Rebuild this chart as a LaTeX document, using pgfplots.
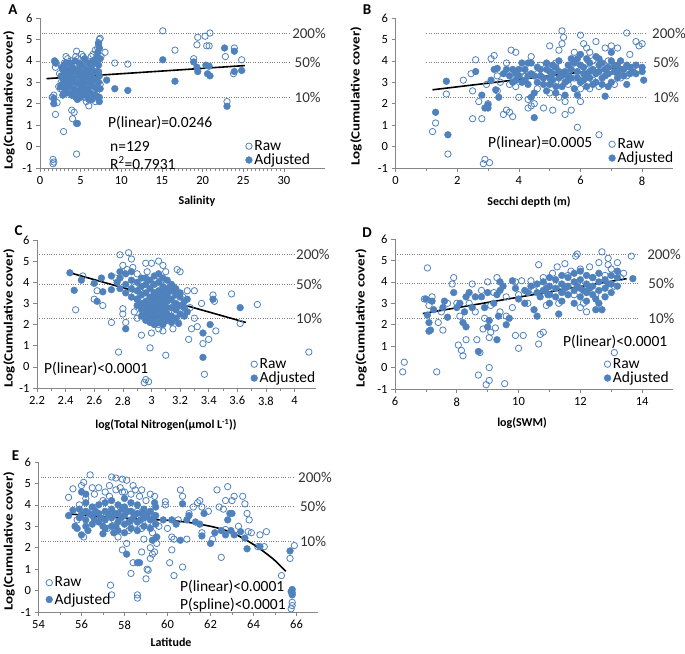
\documentclass[border=0pt]{standalone}
\usepackage{fontspec}
\setmainfont{Carlito}
\usepackage{graphicx}
\usepackage{pgfplots}
\pgfplotsset{compat=1.18}
\definecolor{exblue}{HTML}{4F81BD}
\definecolor{axgray}{HTML}{868686}
\definecolor{pctgray}{HTML}{808080}

\pgfplotsset{
  panel/.style={
    scale only axis, anchor=south west, clip=false,
    ymin=-1, ymax=6, ytick={-1,0,...,6},
    axis x line*=bottom, axis y line*=left,
    axis line style={-, draw=axgray, line width=0.7pt},
    tick style={draw=axgray, line width=0.6pt},
    tick align=outside, major tick length=4pt, minor tick length=3pt,
    x tick label style={font=\fontsize{12.5}{13}\selectfont, yshift=-1pt},
    y tick label style={font=\fontsize{12.5}{13}\selectfont},
    /pgf/number format/assume math mode=true,
    legend style={draw=none, fill=none, font=\fontsize{15.5}{16}\selectfont,
      anchor=north west, inner sep=1pt, row sep=-2pt},
    legend cell align=left,
  },
  raw/.style={only marks, mark=o, mark size=3.2pt, mark options={draw=exblue, line width=0.8pt}},
  adj/.style={only marks, mark=*, mark size=3.4pt, mark options={draw=exblue, fill=exblue}},
  fit/.style={black, line width=1.6pt, forget plot},
  pct/.style={pctgray, line width=1pt, dash pattern=on 1pt off 1.4pt, forget plot},
}
\tikzset{
  pctlab/.style={anchor=west, font=\fontsize{15}{16}\selectfont, text=black!80, inner sep=0pt},
  note/.style={anchor=west, font=\fontsize{15.5}{16}\selectfont, inner sep=0pt},
  xlab/.style={font=\bfseries\fontsize{12}{13}\selectfont, inner sep=0pt},
  ylab/.style={rotate=90, font=\bfseries\fontsize{12.5}{13}\selectfont, inner sep=0pt},
  letter/.style={font=\bfseries\fontsize{15}{16}\selectfont, inner sep=0pt},
}

\begin{document}
\begin{tikzpicture}
\path[use as bounding box] (0pt,0pt) rectangle (685pt,-653pt);

% ---------------- A: salinity
\begin{axis}[panel, at={(40pt,-168pt)}, width=284.6pt, height=150pt,
  xmin=0, xmax=35, xtick={0,5,...,30}, minor x tick num=9,
  legend style={at={(0.718,0.205)}}]
  \addplot[pct] coordinates {(0.2,5.298) (30.7,5.298)};
  \addplot[pct] coordinates {(0.2,3.912) (30.7,3.912)};
  \addplot[pct] coordinates {(0.2,2.303) (30.7,2.303)};
  \addplot[fit] coordinates {(0.8,3.17) (25.2,3.78)};
  \addplot[raw] coordinates {
    (1.6,-0.6) (1.6,-0.8) (1.7,-0.72) (4.5,-0.35) (2.9,0.7) (1.9,1.5) (4.0,1.3) (4.2,1.6)
    (3.9,1.7) (2.1,2.05) (1.7,2.4) (1.5,2.3) (6.0,1.9) (4.5,4.45) (3.2,4.2) (7.3,5.0)
    (7.2,4.85) (7.4,5.05) (8.0,4.4) (9.2,3.9) (10.8,3.85) (15.1,5.4) (16.6,4.5) (18.9,4.1)
    (19.3,4.75) (19.4,5.1) (20.3,5.15) (20.5,4.7) (20.9,5.3) (20.8,4.7) (22.8,4.2) (23.9,4.6)
    (23.8,3.4) (24.8,4.05) (23.0,2.1) (5.1,4.3) (5.3,4.2) (6.3,4.2) (6.8,4.5) (2.0,3.9)
    (1.9,3.7) (2.4,3.4) (2.6,3.0) (2.8,2.6) (3.0,3.9) (3.3,2.6) (3.5,3.7) (3.7,2.5)
    (3.9,4.0) (4.0,3.1) (4.2,2.4) (4.3,3.8) (4.5,2.7) (4.7,4.1) (4.8,3.0) (5.0,2.4)
    (5.2,3.7) (5.5,2.3) (5.6,3.9) (5.8,2.8) (5.9,3.5) (6.1,2.2) (6.3,3.1) (6.4,2.6)
    (6.6,3.9) (6.7,2.3) (6.9,3.4) (7.0,2.6) (7.2,3.5) (7.4,2.9) (7.5,4.2) (7.3,2.3)
    (3.6,3.2) (4.9,3.5) (6.0,3.0) (2.5,2.7) (3.1,3.3) (5.4,2.9) (4.4,4.2) (6.5,4.3)
    (7.1,4.6) (3.4,4.1) (2.3,2.8) (6.8,2.1) (5.7,2.1)
  };
  \addlegendentry{Raw}
  \addplot[adj] coordinates {
    (4.5,1.08) (4.6,1.08) (1.7,2.0) (1.7,2.25) (1.8,4.0) (1.9,3.9) (8.2,3.1) (9.2,2.7)
    (10.8,2.62) (15.1,4.05) (16.6,3.05) (18.9,3.95) (19.3,3.7) (19.4,3.5) (20.4,3.8) (20.6,3.4)
    (20.9,3.3) (20.8,3.75) (22.7,4.6) (23.9,4.45) (23.9,3.5) (24.8,3.55) (23.0,1.88)
    (2.6,3.3) (2.7,2.9) (2.8,3.6) (2.9,3.1) (3.0,2.7) (3.1,3.4) (3.2,3.9) (3.3,3.0)
    (3.3,2.5) (3.4,3.6) (3.5,3.2) (3.6,2.8) (3.7,3.9) (3.8,3.4) (3.9,2.4) (3.9,3.0)
    (4.0,3.7) (4.1,3.2) (4.2,2.7) (4.3,3.5) (4.3,4.0) (4.4,2.3) (4.5,3.0) (4.6,3.6)
    (4.7,2.6) (4.8,3.3) (4.8,3.9) (4.9,2.9) (5.0,3.5) (5.1,2.5) (5.2,3.1) (5.2,3.8)
    (5.3,2.8) (5.4,3.4) (5.5,4.1) (5.6,3.0) (5.6,2.4) (5.7,3.6) (5.8,3.2) (5.9,2.7)
    (6.0,3.9) (6.1,3.4) (6.2,2.5) (6.2,3.0) (6.3,3.7) (6.4,2.2) (6.5,3.2) (6.5,4.0)
    (6.6,2.8) (6.7,3.5) (6.8,2.4) (6.8,3.9) (6.9,3.1) (7.0,4.2) (7.0,2.7) (7.1,3.5)
    (7.1,4.4) (7.2,2.3) (7.2,3.0) (7.2,3.8) (7.3,4.6) (7.3,3.3) (7.3,2.1) (7.4,4.1)
    (7.4,2.7) (7.2,4.8) (3.0,3.8) (3.6,3.5) (4.0,2.5) (4.6,2.2) (5.0,2.3) (5.5,2.6)
    (6.0,2.2) (3.2,2.8) (2.7,3.7) (2.5,2.8) (2.8,2.4)
  };
  \addlegendentry{Adjusted}
  \node[pctlab] at (axis cs:31.0,5.298) {200\%};
  \node[pctlab] at (axis cs:31.3,3.912) {50\%};
  \node[pctlab] at (axis cs:31.3,2.303) {10\%};
\end{axis}

% ---------------- B: secchi depth
\begin{axis}[panel, at={(395.5pt,-168pt)}, width=277.5pt, height=150pt,
  xmin=0, xmax=9, xtick={0,2,...,8}, minor x tick num=1,
  legend style={at={(0.764,0.218)}}]
  \addplot[pct] coordinates {(1.0,5.298) (8.15,5.298)};
  \addplot[pct] coordinates {(1.0,3.912) (8.15,3.912)};
  \addplot[pct] coordinates {(1.0,2.303) (8.15,2.303)};
  \addplot[fit] coordinates {(1.2,2.65) (7.9,3.8)};
  \addplot[raw] coordinates {
    (1.2,0.7) (1.3,1.1) (1.7,-0.35) (1.65,2.45) (2.2,3.1) (2.45,3.4) (2.5,2.6) (2.5,1.3)
    (2.6,4.05) (2.8,1.3) (2.7,2.1) (2.9,-0.6) (2.85,-0.8) (3.05,-0.75) (3.0,2.0) (2.95,2.9)
    (3.1,4.1) (3.2,4.25) (3.4,3.0) (3.5,1.5) (3.6,1.7) (3.7,1.6) (3.8,1.4) (3.75,4.5)
    (3.9,4.4) (3.6,3.9) (3.3,3.3) (4.3,1.8) (4.4,1.9) (4.5,2.0) (4.8,1.8) (5.0,4.7)
    (5.1,1.7) (5.3,2.3) (5.4,5.4) (5.45,5.1) (5.5,1.5) (5.7,1.7) (5.9,0.9) (6.0,5.2)
    (6.6,0.55) (7.5,5.3) (7.8,4.9) (7.9,4.7) (8.0,4.8) (6.2,4.6) (6.5,4.9) (6.8,4.6)
    (7.0,4.7) (7.2,4.6) (4.4,4.2) (5.2,3.9) (5.8,4.4) (6.9,4.0) (7.6,4.3) (7.5,3.3)
    (7.3,3.2) (5.4,4.8) (5.3,4.5) (6.1,4.8) (6.3,4.4) (4.1,3.5) (4.6,2.7) (4.9,3.1)
    (5.6,2.9) (6.0,2.7) (6.4,3.1) (6.7,3.8) (7.1,2.9) (3.9,2.8) (4.2,3.3) (4.7,3.8)
    (5.0,2.5) (5.6,3.4) (6.2,3.6) (6.6,2.8) (7.0,3.5) (7.7,3.7) (4.0,2.3) (4.6,3.4)
    (5.2,3.0) (5.8,3.2) (6.4,4.0) (3.7,2.9) (3.3,2.6) (4.3,2.2) (5.5,2.1) (6.0,2.1)
    (6.3,2.7) (5.0,3.6)
  };
  \addlegendentry{Raw}
  \addplot[adj] coordinates {
    (1.3,1.6) (1.7,0.55) (1.65,3.05) (2.6,3.5) (2.8,2.4) (2.9,1.8) (3.0,1.8) (3.0,1.95)
    (3.1,3.1) (3.2,3.6) (3.3,3.65) (3.35,2.3) (3.25,2.65) (3.5,3.4) (3.7,3.3) (3.8,3.0)
    (4.5,1.35) (4.1,3.0) (4.3,3.9) (4.4,2.3) (4.5,2.5) (4.9,2.6) (5.2,2.5) (5.5,2.4)
    (5.9,2.4) (6.8,2.35) (7.5,2.9) (8.05,3.1) (7.8,3.4) (7.5,3.8) (8.0,3.7) (6.0,4.3)
    (6.2,4.1) (7.0,4.4) (3.6,3.6) (3.9,3.4) (4.0,3.3) (4.2,3.6) (4.3,2.9) (4.5,3.3)
    (4.6,3.0) (4.7,3.6) (4.8,3.2) (5.0,3.5) (5.0,2.9) (5.1,3.1) (5.2,3.7) (5.3,3.2)
    (5.4,2.8) (5.5,3.5) (5.5,3.0) (5.6,3.8) (5.7,3.2) (5.8,2.7) (5.9,3.5) (6.0,3.0)
    (6.0,3.8) (6.1,3.4) (6.2,2.8) (6.3,3.9) (6.3,3.2) (6.4,3.6) (6.5,3.0) (6.5,4.2)
    (6.6,3.5) (6.7,3.9) (6.7,2.9) (6.8,3.3) (6.9,3.7) (7.0,3.0) (7.0,4.0) (7.1,3.5)
    (7.2,3.2) (7.3,4.0) (7.4,3.6) (7.6,3.4) (7.8,3.8) (8.0,3.5) (4.4,3.9) (4.9,3.9)
    (5.3,4.0) (5.7,4.1) (5.1,3.4) (4.1,3.9) (6.9,2.8) (5.9,4.1) (6.6,4.1) (7.2,3.8)
    (4.6,3.7) (3.9,3.1) (4.2,3.1) (4.4,3.4) (4.7,3.3) (4.9,3.6) (5.1,3.8) (5.3,3.5)
    (5.4,3.3) (5.6,3.1) (5.7,3.6) (5.8,3.9) (5.9,3.2) (6.1,3.7) (6.2,3.3) (6.3,3.5)
    (6.4,2.9) (6.5,3.4) (6.6,3.8) (6.7,3.2) (6.8,3.6) (6.9,3.4) (7.1,3.8) (7.2,3.4)
    (7.3,3.6) (7.4,3.3) (7.6,3.7) (7.7,3.5) (5.0,3.2) (5.2,2.8) (4.8,2.9) (6.1,3.1)
    (5.6,3.3) (4.3,3.3) (4.0,3.6) (3.8,3.6)
  };
  \addlegendentry{Adjusted}
  \node[pctlab] at (axis cs:8.32,5.298) {200\%};
  \node[pctlab] at (axis cs:8.35,3.912) {50\%};
  \node[pctlab] at (axis cs:8.35,2.303) {10\%};
\end{axis}

% ---------------- C: total nitrogen
\begin{axis}[panel, at={(37pt,-388pt)}, width=279pt, height=148pt,
  xmin=2.2, xmax=4.15, xtick={2.2,2.4,2.6,2.8,3,3.2,3.4,3.6,3.8,4}, minor x tick num=1,
  legend style={at={(0.762,0.221)}}]
  \addplot[pct] coordinates {(2.2,5.298) (4.0,5.298)};
  \addplot[pct] coordinates {(2.2,3.912) (4.0,3.912)};
  \addplot[pct] coordinates {(2.2,2.303) (4.0,2.303)};
  \addplot[fit] coordinates {(2.42,4.47) (3.66,2.1)};
  \addplot[raw] coordinates {
    (2.47,2.7) (2.52,4.3) (2.6,3.2) (2.62,3.6) (2.66,2.9) (2.72,2.1) (2.77,0.7) (2.78,5.3)
    (2.84,5.4) (2.86,5.1) (2.82,2.1) (2.8,2.5) (2.8,2.75) (2.87,4.7) (2.88,2.6) (2.9,2.3)
    (2.93,1.5) (2.96,-0.6) (2.95,-0.75) (2.98,-0.7) (2.99,0.9) (3.0,1.6) (3.05,1.8) (3.08,1.7)
    (3.1,0.55) (3.15,1.8) (3.18,4.6) (3.2,4.5) (3.25,3.6) (3.26,1.3) (3.28,1.8) (3.32,1.9)
    (3.36,1.1) (3.4,1.3) (3.37,-0.35) (3.43,3.4) (3.45,1.7) (3.44,3.1) (3.56,3.45) (3.62,2.05)
    (3.74,2.95) (4.1,0.7) (3.0,4.9) (3.05,5.0) (3.08,4.8) (2.96,4.9) (3.1,4.5) (3.05,4.3)
    (2.8,4.8) (2.83,4.6) (2.9,4.4) (2.75,4.2) (2.85,3.9) (2.9,3.2) (2.95,2.8) (3.0,2.3)
    (3.05,2.0) (3.1,2.2) (3.12,3.0) (3.15,3.8) (3.2,2.6) (3.22,3.3) (3.27,2.8) (3.3,3.6)
    (3.02,3.5) (3.07,4.1) (2.97,4.5) (3.12,2.6) (3.18,2.2) (2.92,3.7) (3.03,2.8) (2.88,3.4)
    (3.3,2.3) (3.35,3.0)
  };
  \addlegendentry{Raw}
  \addplot[adj] coordinates {
    (2.43,4.45) (2.46,3.62) (2.51,4.1) (2.6,3.95) (2.62,3.1) (2.65,4.2) (2.66,3.55) (2.72,4.3)
    (2.76,4.0) (2.72,3.65) (2.82,1.8) (3.19,2.05) (3.36,1.6) (3.36,0.45) (3.41,2.0) (3.43,3.2)
    (3.62,2.8) (3.23,2.4) (3.25,2.6) (3.2,3.5) (3.25,3.2)
    (2.78,3.7) (2.78,4.2) (2.78,4.5) (2.82,3.5) (2.82,3.9) (2.82,4.4)
    (2.86,3.3) (2.86,3.7) (2.86,4.1) (2.86,4.5) (2.9,2.9) (2.9,3.2) (2.9,3.6) (2.9,4.0)
    (2.93,2.4) (2.93,2.7) (2.93,3.0) (2.93,3.4) (2.93,3.8) (2.93,4.2)
    (2.96,2.2) (2.96,2.5) (2.96,2.8) (2.96,3.1) (2.96,3.5) (2.96,3.9) (2.96,4.2)
    (2.99,2.1) (2.99,2.4) (2.99,2.7) (2.99,3.0) (2.99,3.3) (2.99,3.7) (2.99,4.1)
    (3.02,2.0) (3.02,2.3) (3.02,2.6) (3.02,2.9) (3.02,3.2) (3.02,3.5) (3.02,3.9) (3.02,4.3)
    (3.05,2.1) (3.05,2.4) (3.05,2.7) (3.05,3.0) (3.05,3.3) (3.05,3.6) (3.05,4.0) (3.05,4.4)
    (3.08,2.0) (3.08,2.3) (3.08,2.6) (3.08,2.9) (3.08,3.2) (3.08,3.5) (3.08,3.8) (3.08,4.2)
    (3.11,2.2) (3.11,2.5) (3.11,2.8) (3.11,3.1) (3.11,3.4) (3.11,3.7) (3.11,4.1)
    (3.14,2.1) (3.14,2.4) (3.14,2.8) (3.14,3.2) (3.14,3.6) (3.14,3.9)
    (3.17,2.3) (3.17,2.7) (3.17,3.0) (3.17,3.4) (3.17,3.7) (3.2,2.5) (3.2,2.9) (3.2,3.3)
    (3.23,2.8) (3.23,3.1)
  };
  \addlegendentry{Adjusted}
  \node[pctlab] at (axis cs:4.01,5.298) {200\%};
  \node[pctlab] at (axis cs:4.01,3.912) {50\%};
  \node[pctlab] at (axis cs:4.01,2.303) {10\%};
\end{axis}

% ---------------- D: SWM
\begin{axis}[panel, at={(395pt,-389pt)}, width=278pt, height=150pt,
  xmin=6, xmax=15, xtick={6,8,...,14}, minor x tick num=1,
  legend style={at={(0.748,0.225)}}]
  \addplot[pct] coordinates {(6.0,5.298) (13.9,5.298)};
  \addplot[pct] coordinates {(6.0,3.912) (13.9,3.912)};
  \addplot[pct] coordinates {(6.0,2.303) (13.9,2.303)};
  \addplot[fit] coordinates {(6.9,2.52) (13.5,4.15)};
  \addplot[raw] coordinates {
    (6.25,-0.2) (6.3,0.25) (7.05,4.65) (6.95,3.2) (7.35,-0.2) (7.4,2.1) (7.55,1.75) (7.9,4.2)
    (7.85,3.9) (8.05,1.05) (8.15,0.8) (8.2,0.55) (8.3,1.3) (8.65,1.3) (8.7,-0.35) (8.75,0.7)
    (8.95,-0.8) (9.05,0.0) (9.05,-0.6) (9.55,-0.75) (8.85,1.8) (9.05,1.4) (9.1,1.65) (9.25,1.85)
    (9.9,1.5) (10.0,0.9) (10.15,1.5) (10.65,1.1) (10.7,1.55) (10.8,1.65) (10.65,4.8) (11.25,4.7)
    (11.5,4.85) (11.85,5.2) (11.9,5.3) (12.7,5.4) (13.65,5.2) (13.1,0.7) (12.9,5.1) (12.2,2.6)
    (9.0,4.0) (9.3,4.2) (9.9,4.0) (10.1,4.05) (10.4,4.05) (8.0,3.0) (7.2,3.3) (7.1,2.9)
    (7.7,3.0) (8.1,2.4) (8.4,3.0) (8.6,2.6) (8.8,3.6) (9.1,2.9) (9.4,2.6) (9.6,3.3)
    (9.8,2.8) (10.0,3.4) (10.3,3.0) (10.5,3.6) (10.8,4.2) (11.0,3.5) (11.1,4.4) (11.3,3.0)
    (11.6,4.3) (11.8,3.4) (12.0,4.6) (12.1,3.0) (12.3,4.7) (12.5,3.4) (12.6,4.9) (12.8,4.3)
    (13.0,4.6) (13.1,3.8) (13.2,4.9) (13.3,4.2) (11.4,3.8) (12.4,4.2) (9.6,2.4) (8.9,2.3)
    (7.5,2.6) (12.0,2.8) (10.9,2.9) (11.7,4.5) (12.9,4.8) (13.4,4.4) (8.5,3.9) (9.2,3.5)
  };
  \addlegendentry{Raw}
  \addplot[adj] coordinates {
    (7.0,3.2) (7.05,2.45) (7.1,1.7) (7.15,1.75) (7.1,2.1) (7.2,3.1) (7.25,2.7) (7.55,2.8)
    (7.7,2.35) (7.9,3.5) (8.2,2.1) (8.3,1.9) (8.4,3.5) (8.3,3.3) (8.1,3.0) (8.25,2.6)
    (8.5,2.8) (8.7,0.75) (8.8,3.3) (8.9,2.8) (9.0,1.9) (9.05,2.2) (9.3,1.3) (9.35,2.4)
    (9.2,3.0) (9.3,3.4) (9.4,3.6) (9.4,4.0) (9.6,2.0) (9.7,2.3) (9.8,4.05) (10.0,3.2)
    (10.2,3.0) (10.5,2.7) (10.6,2.4) (10.7,3.3) (10.95,3.4) (11.0,3.0) (11.3,2.5) (12.5,2.7)
    (12.7,2.7) (13.7,4.15) (9.5,3.8) (10.3,3.5) (10.4,3.8)
    (10.6,3.5) (10.8,3.6) (10.8,4.0) (11.0,3.8) (11.0,4.2) (11.2,3.3) (11.2,3.7) (11.2,4.1)
    (11.4,3.1) (11.4,3.5) (11.4,3.9) (11.4,4.3) (11.6,3.4) (11.6,3.8) (11.6,4.2)
    (11.8,3.0) (11.8,3.6) (11.8,4.0) (11.8,4.4) (12.0,3.3) (12.0,3.7) (12.0,4.1) (12.0,4.5)
    (12.2,3.1) (12.2,3.5) (12.2,3.9) (12.2,4.3) (12.4,3.4) (12.4,3.8) (12.4,4.2)
    (12.6,3.0) (12.6,3.6) (12.6,4.0) (12.6,4.4) (12.8,3.3) (12.8,3.7) (12.8,4.1)
    (13.0,3.5) (13.0,3.9) (13.0,4.3) (13.2,3.8) (13.2,4.2) (13.2,4.5)
    (10.2,3.6) (10.6,3.9) (11.0,3.4) (9.9,3.7) (9.0,3.5) (8.6,3.3) (8.0,2.8) (7.6,3.1)
    (10.9,3.7) (12.1,3.6) (12.9,3.9) (12.5,3.2) (11.9,3.8) (11.5,3.7) (12.3,3.7)
  };
  \addlegendentry{Adjusted}
  \node[pctlab] at (axis cs:14.16,5.298) {200\%};
  \node[pctlab] at (axis cs:14.2,3.912) {50\%};
  \node[pctlab] at (axis cs:14.2,2.303) {10\%};
\end{axis}

% ---------------- E: latitude
\begin{axis}[panel, at={(38.5pt,-612pt)}, width=279.5pt, height=150pt,
  xmin=54, xmax=67, xtick={54,56,...,66}, minor x tick num=1,
  legend style={at={(0.022,0.255)}, row sep=1pt}]
  \addplot[pct] coordinates {(54.1,5.298) (65.9,5.298)};
  \addplot[pct] coordinates {(54.1,3.912) (65.9,3.912)};
  \addplot[pct] coordinates {(54.1,2.303) (65.9,2.303)};
  \addplot[fit, smooth] coordinates {(55.4,3.58) (56,3.53) (57,3.45) (58,3.38) (59,3.33)
    (60,3.28) (61,3.18) (62,3.0) (62.5,2.87) (63,2.7) (63.5,2.45) (64,2.15) (64.5,1.8)
    (65,1.4) (65.5,0.9)};
  \addplot[raw] coordinates {
    (55.4,4.35) (55.6,4.75) (56.4,5.4) (56.0,4.9) (56.1,5.05) (57.4,5.3) (57.6,5.25) (57.9,5.2)
    (58.1,5.15) (57.1,4.6) (57.35,0.25) (57.4,-0.2) (57.9,1.9) (58.1,2.2) (58.4,1.3) (58.3,0.8)
    (58.6,-0.2) (58.6,-0.35) (59.0,0.55) (59.05,1.0) (59.1,0.95) (59.2,1.5) (59.3,1.7) (59.4,1.8)
    (59.2,2.0) (59.5,2.2) (58.8,1.8) (60.1,1.3) (60.2,1.9) (60.3,0.7) (60.2,2.5) (60.3,2.4)
    (60.6,4.7) (60.7,4.4) (60.7,1.1) (61.2,3.9) (61.5,4.2) (61.4,4.1) (61.6,3.9) (61.6,2.7)
    (62.3,4.7) (62.6,3.8) (62.7,4.2) (62.8,4.85) (62.5,1.55) (62.7,2.85) (63.1,4.4) (63.0,4.2)
    (63.5,4.4) (63.6,4.05) (63.7,3.6) (63.8,3.3) (63.75,2.75) (64.3,2.6) (64.6,2.75) (64.5,2.05)
    (64.2,2.05) (65.3,0.7) (65.7,1.5) (65.9,2.1) (65.8,-0.55) (65.75,-0.85) (65.8,-0.7) (59.9,4.15)
    (59.9,4.0) (60.5,3.3) (59.2,4.5) (56.2,4.3) (56.6,4.5) (57.0,4.2) (57.3,4.4) (57.6,4.7)
    (58.0,4.6) (58.3,4.5) (58.7,4.4) (59.0,4.2) (55.8,3.3) (56.1,2.5) (56.5,3.8) (57.2,2.9)
    (57.7,2.5) (58.2,2.8) (58.5,3.1) (58.9,2.4) (59.3,2.7) (59.6,3.0) (56.9,3.5) (57.8,3.9)
    (58.6,3.7) (59.4,3.5) (55.9,4.0) (57.5,3.3) (58.8,2.9) (59.1,3.2) (60.0,2.9) (61.0,3.6)
    (61.9,3.7) (62.4,3.9) (63.3,3.0) (63.9,2.7) (60.9,2.4) (62.1,2.4)
    (56.8,4.8) (57.3,4.9) (57.8,4.8) (58.4,4.9) (58.8,4.7) (59.4,4.4) (56.5,4.8) (57.9,4.6)
    (58.5,4.7)
  };
  \addlegendentry{Raw}
  \addplot[adj] coordinates {
    (55.4,3.5) (55.6,3.75) (55.7,3.0) (55.8,2.9) (56.0,2.6) (56.2,3.0) (56.3,2.8) (56.5,3.1)
    (56.0,4.6) (57.0,3.0) (57.0,2.65) (57.5,2.7) (58.1,1.7) (58.6,1.3) (58.7,1.3) (59.3,2.35)
    (59.4,4.1) (60.6,2.35) (60.7,4.05) (60.9,3.3) (61.5,3.1) (61.6,2.55) (61.7,3.6) (62.0,2.2)
    (62.5,2.8) (62.7,2.6) (62.8,3.3) (62.9,3.6) (63.0,3.6) (62.95,2.8) (63.1,2.6) (63.6,2.45)
    (63.4,2.75) (63.7,1.95) (64.3,2.05) (65.7,1.85) (65.8,0.05) (65.8,-0.1) (65.8,-0.2) (65.75,-0.05)
    (60.2,3.3) (61.0,3.5) (61.3,3.2) (59.8,3.3) (60.4,3.1) (62.2,2.7)
    (55.9,3.4) (55.9,3.8) (56.2,3.3) (56.2,3.7) (56.2,4.1) (56.2,4.5) (56.5,3.5) (56.5,3.9)
    (56.8,3.2) (56.8,3.6) (56.8,4.0) (57.1,2.9) (57.1,3.3) (57.1,3.7) (57.1,4.1)
    (57.4,3.0) (57.4,3.4) (57.4,3.8) (57.4,4.2) (57.7,2.8) (57.7,3.2) (57.7,3.6) (57.7,4.0)
    (58.0,2.7) (58.0,3.1) (58.0,3.5) (58.0,3.9) (58.0,4.3) (58.3,2.9) (58.3,3.3) (58.3,3.7) (58.3,4.1)
    (58.6,2.8) (58.6,3.2) (58.6,3.6) (58.6,4.0) (58.9,3.0) (58.9,3.4) (58.9,3.8)
    (59.2,2.9) (59.2,3.3) (59.2,3.7) (59.45,3.1) (59.45,3.5) (59.45,3.9) (59.5,2.5)
    (56.0,3.55) (56.35,3.6) (56.65,3.7) (57.25,3.55) (57.55,3.6) (57.85,3.4) (58.15,3.7)
    (58.45,3.5) (58.75,3.3) (59.05,3.55) (59.35,3.4) (56.9,3.4) (57.6,3.0) (58.2,3.2)
    (58.8,3.6) (57.9,3.8) (56.6,3.3)
  };
  \addlegendentry{Adjusted}
  \node[pctlab] at (axis cs:66.07,5.298) {200\%};
  \node[pctlab] at (axis cs:66.16,3.912) {50\%};
  \node[pctlab] at (axis cs:66.16,2.303) {10\%};
\end{axis}

% panel letters
\node[letter] at (13pt,-10pt) {A};
\node[letter] at (367pt,-10pt) {B};
\node[letter] at (18.5pt,-231pt) {C};
\node[letter] at (367pt,-233pt) {D};
\node[letter] at (15.5pt,-456pt) {E};

% axis titles
\node[xlab] at (197pt,-201pt) {Salinity};
\node[xlab] at (529pt,-202pt) {Secchi depth (m)};
\node[xlab] at (166pt,-425pt) {log(Total Nitrogen(µmol L\textsuperscript{-1}))};
\node[xlab] at (522pt,-423pt) {log(SWM)};
\node[xlab] at (171pt,-642pt) {Latitude};
\node[ylab] at (9pt,-100pt) {\scalebox{1.2}[1]{Log(Cumulative cover)}};
\node[ylab] at (356pt,-96pt) {\scalebox{1.2}[1]{Log(Cumulative cover)}};
\node[ylab] at (9pt,-318pt) {\scalebox{1.2}[1]{Log(Cumulative cover)}};
\node[ylab] at (361pt,-318pt) {\scalebox{1.2}[1]{Log(Cumulative cover)}};
\node[ylab] at (9pt,-541pt) {\scalebox{1.2}[1]{Log(Cumulative cover)}};

% statistics
\node[note] at (108pt,-123pt) {P(linear)=0.0246};
\node[note] at (110pt,-146pt) {n=129};
\node[note] at (110pt,-163pt) {R\textsuperscript{2}=0.7931};
\node[note] at (488pt,-143pt) {P(linear)=0.0005};
\node[note] at (44pt,-369pt) {P(linear)<0.0001};
\node[note] at (563pt,-342pt) {P(linear)<0.0001};
\node[note] at (180pt,-587pt) {P(linear)<0.0001};
\node[note] at (180pt,-605pt) {P(spline)<0.0001};
\end{tikzpicture}
\end{document}
